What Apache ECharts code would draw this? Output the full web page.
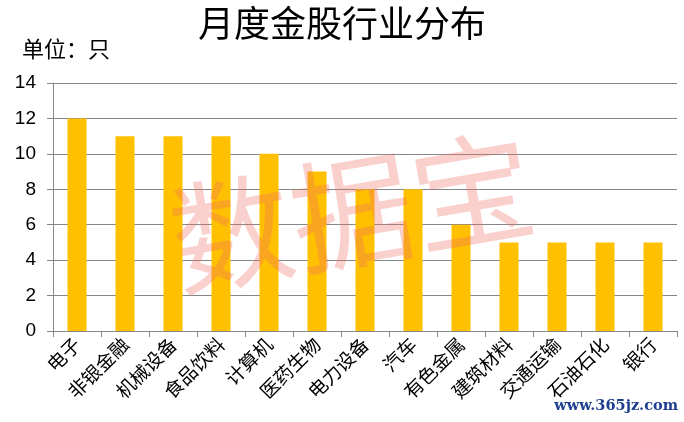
<!DOCTYPE html>
<html><head><meta charset="utf-8">
<script src="https://cdn.jsdelivr.net/npm/echarts@6/dist/echarts.min.js"></script>
<style>html,body{margin:0;padding:0;background:#fff}#c{width:684px;height:422px}</style>
</head><body><div id="c"></div>
<script>
const categories = ['电子','非银金融','机械设备','食品饮料','计算机','医药生物','电力设备','汽车','有色金属','建筑材料','交通运输','石油石化','银行'];
const values = [12,11,11,11,10,9,8,8,6,5,5,5,5];
const yTicks = {min:0, max:14, interval:2};

const chart = echarts.init(document.getElementById('c'));
chart.setOption({
  animation:false,
  backgroundColor:'#fff',
  title:{text:'月度金股行业分布', left:'center', top:0,
    textStyle:{fontFamily:'Noto Sans CJK SC', fontWeight:'normal', fontSize:36, color:'#000'}},
  grid:{left:53, right:7, top:83, bottom:91},
  xAxis:{type:'category', data:categories,
    axisLine:{lineStyle:{color:'#868686', width:1}},
    axisTick:{show:true, length:6, lineStyle:{color:'#868686'}},
    axisLabel:{interval:0, rotate:45, margin:10, fontFamily:'Noto Sans CJK SC', fontSize:19, color:'#000'}},
  yAxis:{type:'value', min:yTicks.min, max:yTicks.max, interval:yTicks.interval,
    axisLine:{show:true, lineStyle:{color:'#868686'}},
    axisTick:{show:true, length:6, lineStyle:{color:'#868686'}},
    splitLine:{lineStyle:{color:'#868686', width:1}},
    axisLabel:{margin:17, fontFamily:'Liberation Sans', fontSize:19, color:'#000'}},
  series:[{type:'bar', data:values, barWidth:19, itemStyle:{color:'#FFC000'}, z:2}],
  graphic:[
    {type:'text', left:22, top:38, style:{text:'单位：只', font:'normal 22px "Noto Sans CJK SC"', fill:'#000'}},
    {type:'text', x:352, y:212, rotation:0.17, z:100,
      style:{text:'数据宝', font:'normal 122px "Noto Sans CJK SC"', fill:'rgba(240,110,100,0.32)', align:'center', verticalAlign:'middle'}},
    {type:'text', right:6, top:399, z:100, style:{text:'www.365jz.com', font:'bold 14.5px "DejaVu Serif"', fill:'#1f3f8f'}}
  ]
});
</script></body></html>
